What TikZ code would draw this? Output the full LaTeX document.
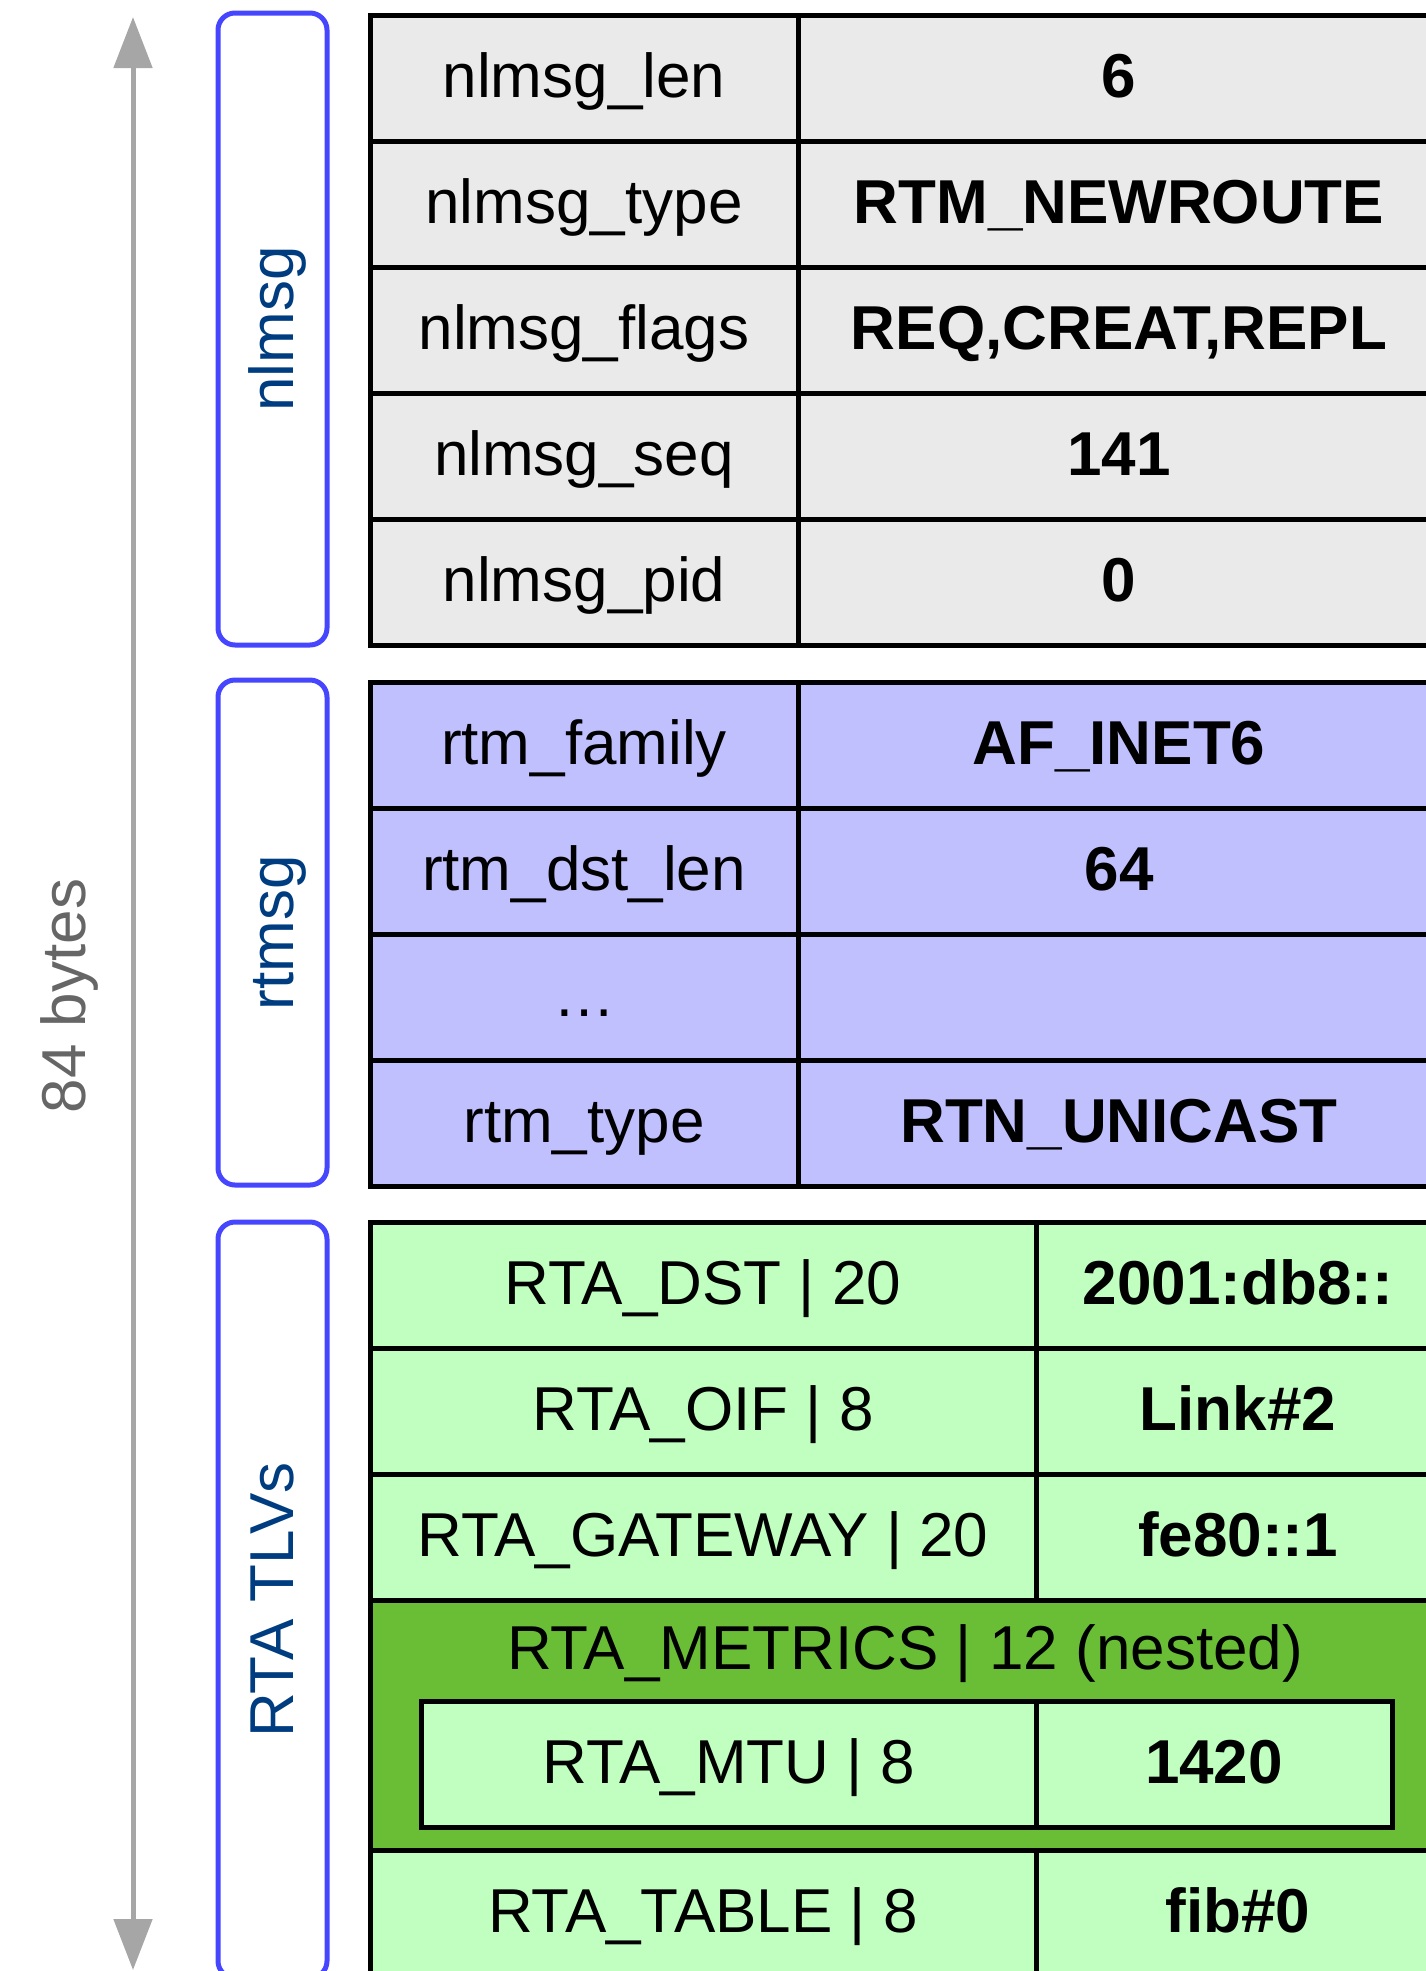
\documentclass[tikz,border=0pt]{standalone}
\usepackage{fontspec}
\setmainfont{Liberation Sans}
\usetikzlibrary{arrows.meta}
\definecolor{gfill}{HTML}{EAEAEA}
\definecolor{pfill}{HTML}{C0C0FF}
\definecolor{lgfill}{HTML}{C0FFC0}
\definecolor{dgfill}{HTML}{6ABE36}
\definecolor{bline}{HTML}{4646FF}
\definecolor{btext}{HTML}{003D80}
\definecolor{arrgray}{HTML}{A6A6A6}
\definecolor{txtgray}{HTML}{666666}
\tikzset{
  txt/.style={inner sep=0pt, font=\fontsize{62}{74}\selectfont, text height=50pt, text depth=12pt},
  cell/.style={txt, draw=black, line width=5pt, minimum height=126pt},
  valcell/.style={cell, font=\fontsize{62}{74}\selectfont\bfseries},
  kgray/.style={cell, fill=gfill, minimum width=428pt},
  vgray/.style={valcell, fill=gfill, minimum width=642pt},
  kpur/.style={cell, fill=pfill, minimum width=428pt},
  vpur/.style={valcell, fill=pfill, minimum width=642pt},
  kgrn/.style={cell, fill=lgfill, minimum width=666pt},
  vgrn/.style={valcell, fill=lgfill, minimum width=404pt},
  groupbox/.style={draw=bline, line width=5pt, rounded corners=17pt, minimum width=109pt, inner sep=0pt},
  grouplabel/.style={txt, text=btext, rotate=90},
}
\begin{document}
\begin{tikzpicture}[x=1pt,y=-1pt]
\useasboundingbox (0,0) rectangle (1426,1971);
\clip (0,0) rectangle (1426,1971);

% size arrow
\coordinate (atop) at (133,17);
\coordinate (abot) at (133,1970);
\draw[arrgray, line width=5pt, {Triangle[length=51pt,width=38pt]}-{Triangle[length=51pt,width=38pt]}] (atop) -- (abot);
\node[txt, text=txtgray, rotate=90] (bytes) at (66,996) {84 bytes};

% group boxes
\node[groupbox, minimum height=632pt] (gb1) at (272.5,329) {};
\node[groupbox, minimum height=505pt] (gb2) at (272.5,932.5) {};
\node[groupbox, minimum height=756pt] (gb3) at (272.5,1600) {};
\node[grouplabel] (gl1) at (274,329) {nlmsg};
\node[grouplabel] (gl2) at (274,933) {rtmsg};
\node[grouplabel] (gl3) at (274,1600) {RTA TLVs};

% nlmsg
\node[kgray] (n1k) at (584,78) {nlmsg\_len};
\node[vgray] (n1v) at (1119,78) {6};
\node[kgray] (n2k) at (584,204) {nlmsg\_type};
\node[vgray] (n2v) at (1119,204) {RTM\_NEWROUTE};
\node[kgray] (n3k) at (584,330) {nlmsg\_flags};
\node[vgray] (n3v) at (1119,330) {REQ,CREAT,REPL};
\node[kgray] (n4k) at (584,456) {nlmsg\_seq};
\node[vgray] (n4v) at (1119,456) {141};
\node[kgray] (n5k) at (584,582) {nlmsg\_pid};
\node[vgray] (n5v) at (1119,582) {0};

% rtmsg
\node[kpur] (r1k) at (584,745) {rtm\_family};
\node[vpur] (r1v) at (1119,745) {AF\_INET6};
\node[kpur] (r2k) at (584,871) {rtm\_dst\_len};
\node[vpur] (r2v) at (1119,871) {64};
\node[kpur] (r3k) at (584,997) {…};
\node[vpur] (r3v) at (1119,997) {};
\node[kpur] (r4k) at (584,1123) {rtm\_type};
\node[vpur] (r4v) at (1119,1123) {RTN\_UNICAST};

% RTA TLVs
\node[kgrn] (t1k) at (703,1285) {RTA\_DST | 20};
\node[vgrn] (t1v) at (1238,1285) {2001:db8::};
\node[kgrn] (t2k) at (703,1411) {RTA\_OIF | 8};
\node[vgrn] (t2v) at (1238,1411) {Link\#2};
\node[kgrn] (t3k) at (703,1537) {RTA\_GATEWAY | 20};
\node[vgrn] (t3v) at (1238,1537) {fe80::1};
\node[draw=black, line width=5pt, fill=dgfill, minimum width=1070pt, minimum height=250pt, inner sep=0pt] (met) at (905,1725) {};
\node[txt] (mett) at (905,1650) {RTA\_METRICS | 12 (nested)};
\node[cell, fill=lgfill, minimum width=615pt] (m1k) at (728.5,1764) {RTA\_MTU | 8};
\node[valcell, fill=lgfill, minimum width=356pt] (m1v) at (1214,1764) {1420};
\node[kgrn] (t5k) at (703,1913) {RTA\_TABLE | 8};
\node[vgrn] (t5v) at (1238,1913) {fib\#0};
\end{tikzpicture}
\end{document}
